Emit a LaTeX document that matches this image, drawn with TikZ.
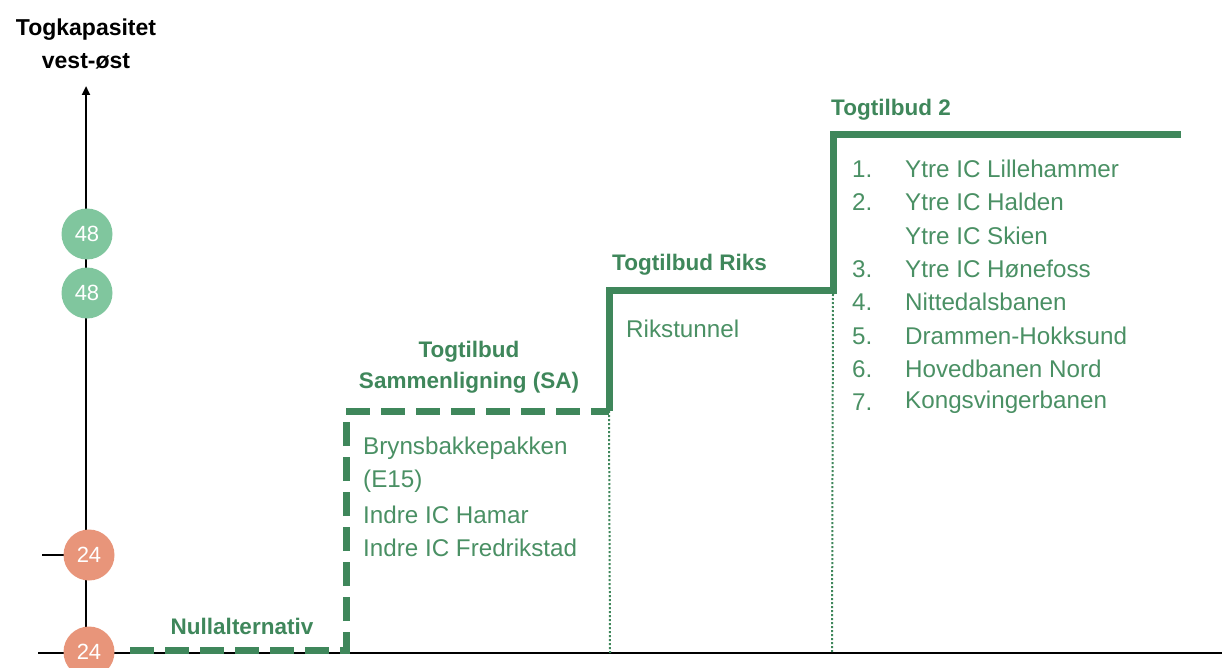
\documentclass[tikz,border=0pt]{standalone}
\usepackage{fontspec}
\setmainfont{Liberation Sans}
\usetikzlibrary{arrows.meta}
\definecolor{dgreen}{HTML}{3F875B}
\definecolor{tgreen}{HTML}{4A9064}
\definecolor{lgreen}{HTML}{80C69E}
\definecolor{orng}{HTML}{E8957A}
\tikzset{
  axis/.style={line width=2.6pt, black},
  dashline/.style={line width=7pt, dgreen, dash pattern=on 24pt off 11pt},
  solidline/.style={line width=7pt, dgreen},
  dotline/.style={line width=2pt, dgreen, dash pattern=on 2pt off 2pt},
  badge/.style={circle, minimum size=51pt, inner sep=0pt, text=white, font=\fontsize{22}{24}\selectfont},
  head/.style={font=\bfseries\fontsize{22.5}{31}\selectfont, text=dgreen, align=center},
  item/.style={font=\fontsize{24.2}{33.4}\selectfont, text=tgreen, anchor=west, inner sep=0pt},
  axlabel/.style={font=\bfseries\fontsize{23}{33}\selectfont, align=center, text=black}
}
\begin{document}
\begin{tikzpicture}[x=1pt, y=-1pt]
\useasboundingbox (0,0) rectangle (1222,668);
% axes
\coordinate (ybot) at (86,653);
\coordinate (ytop) at (86,86);
\coordinate (xl) at (38,653);
\coordinate (xr) at (1222,653);
\coordinate (tl) at (42,555);
\coordinate (tr) at (86,555);
\draw[axis] (xl) -- (xr);
\draw[axis, -{Triangle[length=9pt,width=8pt]}] (ybot) -- (ytop);
\draw[axis] (tl) -- (tr);
\node[axlabel] (ylab) at (86,44) {Togkapasitet\\vest-øst};
% badges
\node[badge, fill=lgreen] (g1) at (87,234) {48};
\node[badge, fill=lgreen] (g2) at (87,293) {48};
\node[badge, fill=orng] (o1) at (89,555) {24};
\node[badge, fill=orng] (o2) at (89,652) {24};
% step coordinates
\coordinate (a0) at (130,650);
\coordinate (a1) at (346,650);
\coordinate (a2) at (346,411);
\coordinate (a3) at (609,411);
\coordinate (b1) at (609,290);
\coordinate (b2) at (833,290);
\coordinate (b3) at (833,135);
\coordinate (b4) at (1181,135);
\coordinate (d1) at (610,653);
\coordinate (d2) at (832,653);
\draw[dotline] (a3) -- (d1);
\draw[dotline] (b2) -- (d2);
\draw[dashline] (a0) -- (a1) -- (a2) -- (a3);
\draw[solidline] (a3) -- (b1) -- (b2) -- (b3) -- (b4);
% headings
\node[head] (h0) at (242,626) {Nullalternativ};
\node[head] (h1) at (469,367) {Togtilbud\\Sammenligning (SA)};
\node[head, anchor=west, inner sep=0pt] (h2) at (612,265) {Togtilbud Riks};
\node[head, anchor=west, inner sep=0pt] (h3) at (831,110) {Togtilbud 2};
% items
\node[item] (s1) at (363,448) {Brynsbakkepakken};
\node[item] (s2) at (363,481) {(E15)};
\node[item] (s3) at (363,515) {Indre IC Hamar};
\node[item] (s4) at (363,548) {Indre IC Fredrikstad};
\node[item] (r1) at (626,329) {Rikstunnel};
\foreach \n/\t/\y in {1./Ytre IC Lillehammer/169, 2./Ytre IC Halden/202, /Ytre IC Skien/236, 3./Ytre IC Hønefoss/269, 4./Nittedalsbanen/302, 5./Drammen-Hokksund/336, 6./Hovedbanen Nord/369, 7./Kongsvingerbanen/402}{
  \node[item] (n\y) at (852,\y) {\n};
  \node[item] (t\y) at (905,\y) {\t};
}
\end{tikzpicture}
\end{document}
